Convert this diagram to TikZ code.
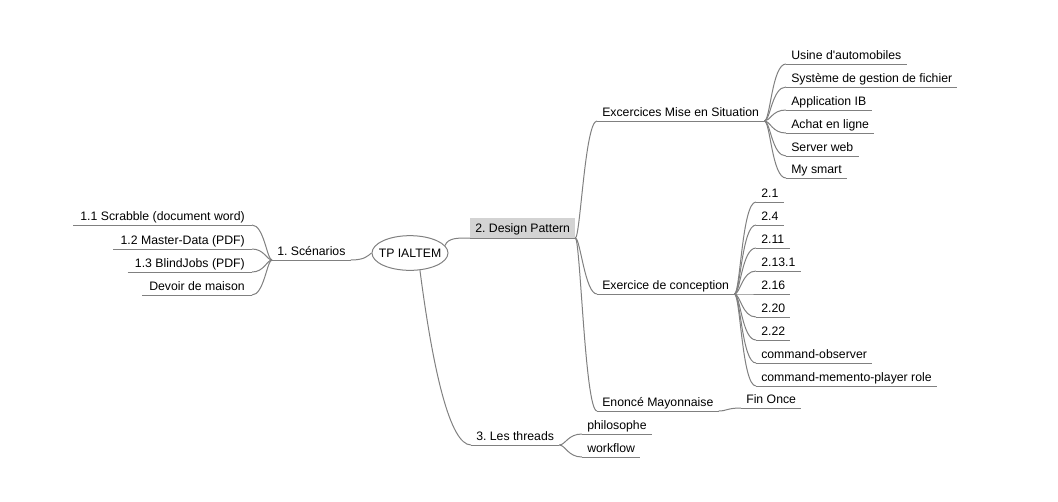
\documentclass[tikz,border=0pt]{standalone}
\usepackage{fontspec}
\setmainfont{Liberation Sans}
\usetikzlibrary{shapes.geometric}
\definecolor{linegray}{RGB}{128,128,128}
\definecolor{boxgray}{RGB}{211,211,211}
\frenchspacing
\begin{document}
\begin{tikzpicture}[x=0.75pt,y=-0.75pt,
  font=\fontsize{9.2}{11}\selectfont,
  lbl/.style={inner xsep=3.75pt, inner ysep=0pt, text height=7pt, text depth=3pt},
  edge/.style={draw=linegray, line width=0.75pt}]
\useasboundingbox (0,0) rectangle (1058,501);

% root
\node[draw=linegray, line width=0.75pt, ellipse, minimum width=57pt, minimum height=26pt, inner xsep=-3.4pt, inner ysep=0pt] (root) at (410,253) {TP IALTEM};

% 1. Scenarios
\node[lbl, anchor=south west] (scen) at (272,260) {1. Scénarios};
\node[lbl, inner xsep=5.25pt, anchor=south east] (s1) at (252,225) {1.1 Scrabble (document word)};
\node[lbl, inner xsep=5.25pt, anchor=south east] (s2) at (252,249) {1.2 Master-Data (PDF)};
\node[lbl, inner xsep=5.25pt, anchor=south east] (s3) at (252,272) {1.3 BlindJobs (PDF)};
\node[lbl, inner xsep=5.25pt, anchor=south east] (s4) at (252,295) {Devoir de maison};

% 2. Design Pattern
\node[fill=boxgray, inner xsep=3.75pt, inner ysep=0pt, minimum height=15pt, text height=9pt, text depth=1.5pt, anchor=south west] (dp) at (470,238) {2. Design Pattern};
\node[lbl, anchor=south west] (ems) at (597,121) {Excercices Mise en Situation};
\node[lbl, anchor=south west] (edc) at (597,294) {Exercice de conception};
\node[lbl, anchor=south west] (eno) at (597,411) {Enoncé Mayonnaise};

\node[lbl, anchor=south west] (e1) at (786,64) {Usine d\textquotesingle automobiles};
\node[lbl, anchor=south west] (e2) at (786,87) {Système de gestion de fichier};
\node[lbl, anchor=south west] (e3) at (786,110) {Application IB};
\node[lbl, anchor=south west] (e4) at (786,133) {Achat en ligne};
\node[lbl, anchor=south west] (e5) at (786,156) {Server web};
\node[lbl, anchor=south west] (e6) at (786,178) {My smart};

\node[lbl, anchor=south west] (c1) at (756,202) {2.1};
\node[lbl, anchor=south west] (c2) at (756,225) {2.4};
\node[lbl, anchor=south west] (c3) at (756,248) {2.11};
\node[lbl, anchor=south west] (c4) at (756,271) {2.13.1};
\node[lbl, anchor=south west] (c5) at (756,294) {2.16};
\node[lbl, anchor=south west] (c6) at (756,317) {2.20};
\node[lbl, anchor=south west] (c7) at (756,340) {2.22};
\node[lbl, anchor=south west] (c8) at (756,363) {command-observer};
\node[lbl, anchor=south west] (c9) at (756,386) {command-memento-player role};

\node[lbl, anchor=south west] (fin) at (741,408) {Fin Once};

% 3. Les threads
\node[lbl, anchor=south west] (thr) at (471,445) {3. Les threads};
\node[lbl, anchor=south west] (t1) at (582,434) {philosophe};
\node[lbl, anchor=south west] (t2) at (582,457) {workflow};

% underlines
\foreach \n in {scen,s1,s2,s3,s4,dp,ems,edc,eno,e1,e2,e3,e4,e5,e6,c1,c2,c3,c4,c5,c6,c7,c8,c9,fin,thr,t1,t2}
  \draw[edge] (\n.south west) -- (\n.south east);

% connectors
\draw[edge] (scen.south east) .. controls +(14,0) and +(-4,3) .. (root.west);
\foreach \n in {s1,s2,s3,s4}
  \draw[edge] (scen.south west) .. controls +(-5,0) and +(12,0) .. (\n.south east);

\draw[edge] (root.12) .. controls +(3,-8) and +(-12,0) .. (dp.south west);
\foreach \n in {ems,edc,eno}
  \draw[edge] (dp.south east) .. controls +(5,0) and +(-12,0) .. (\n.south west);
\foreach \n in {e1,e2,e3,e4,e5,e6}
  \draw[edge] (ems.south east) .. controls +(6,0) and +(-14,0) .. (\n.south west);
\foreach \n in {c1,c2,c3,c4,c5,c6,c7,c8,c9}
  \draw[edge] (edc.south east) .. controls +(6,0) and +(-14,0) .. (\n.south west);
\draw[edge] (eno.south east) .. controls +(8,0) and +(-14,0) .. (fin.south west);

\draw[edge] (root.-60) .. controls +(13,100) and +(-21,0) .. (thr.south west);
\foreach \n in {t1,t2}
  \draw[edge] (thr.south east) .. controls +(6,0) and +(-14,0) .. (\n.south west);
\end{tikzpicture}
\end{document}
